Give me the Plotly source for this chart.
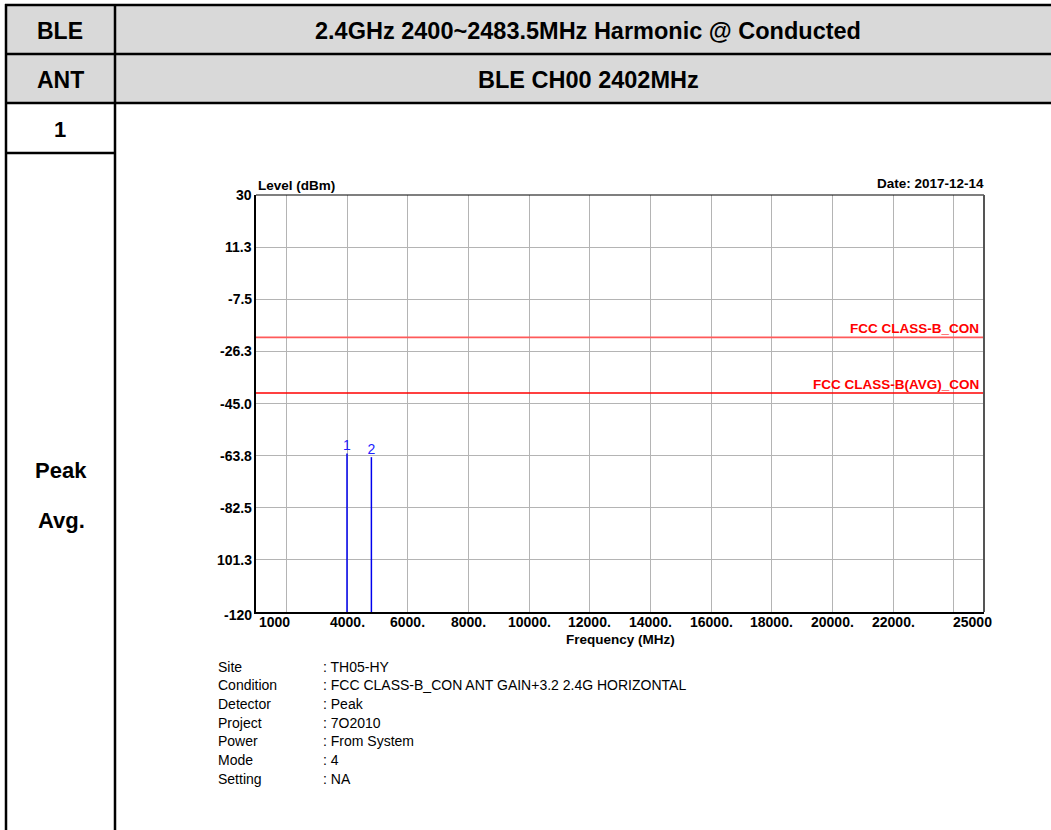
import plotly.graph_objects as go

W, H = 1051, 830
FONT = "Liberation Sans, Arial, sans-serif"

# ---- data ----
x_range = [1000, 25000]
y_range = [-120, 30]
x_grid = [2000, 4000, 6000, 8000, 10000, 12000, 14000, 16000, 18000, 20000, 22000, 24000]
x_tick_vals = [1000, 4000, 6000, 8000, 10000, 12000, 14000, 16000, 18000, 20000, 22000, 25000]
x_tick_labels = ["1000", "4000.", "6000.", "8000.", "10000.", "12000.", "14000.", "16000.", "18000.",
                 "20000.", "22000.", "25000"]
y_ticks = [30, 11.25, -7.5, -26.25, -45, -63.75, -82.5, -101.25, -120]
y_tick_labels = ["30", "11.3", "-7.5", "-26.3", "-45.0", "-63.8", "-82.5", "101.3", "-120"]

limit_names = ["FCC CLASS-B_CON", "FCC CLASS-B(AVG)_CON"]
limit_levels = [-21.23, -41.23]
limit_colors = ["#ff5a5a", "#ff0000"]

marker_ids = ["1", "2"]
marker_freqs = [4000, 4804]
marker_levels = [-63.0, -64.3]

info_keys = ["Site", "Condition", "Detector", "Project", "Power", "Mode", "Setting"]
info_vals = [": TH05-HY", ": FCC CLASS-B_CON ANT GAIN+3.2 2.4G HORIZONTAL", ": Peak",
             ": 7O2010", ": From System", ": 4", ": NA"]

header_left = ["BLE", "ANT", "1"]
header_right = ["2.4GHz 2400~2483.5MHz Harmonic @ Conducted", "BLE CH00 2402MHz"]


def X(p):
    return p / W


def Y(p):
    return 1 - p / H


# plot area in pixels
PL, PR, PT, PB = 256, 984, 195, 612

fig = go.Figure()

# limit lines
for name, lvl, col in zip(limit_names, limit_levels, limit_colors):
    fig.add_trace(go.Scatter(x=x_range, y=[lvl, lvl], mode="lines",
                             line=dict(color=col, width=1.6), hoverinfo="skip", showlegend=False))

# marker lines
for mid, f, lvl in zip(marker_ids, marker_freqs, marker_levels):
    fig.add_trace(go.Scatter(x=[f, f], y=[y_range[0], lvl], mode="lines",
                             line=dict(color="#0000ee", width=1.5), hoverinfo="skip", showlegend=False))
fig.add_trace(go.Scatter(x=marker_freqs, y=marker_levels, mode="text", text=marker_ids,
                         textposition="top center", textfont=dict(family=FONT, size=14, color="#2020ff"),
                         hoverinfo="skip", showlegend=False))

shapes = []
annotations = []

# table background & borders
shapes.append(dict(type="rect", xref="paper", yref="paper", x0=X(6), x1=X(W), y0=Y(103), y1=Y(5),
                   fillcolor="#d9d9d9", line=dict(width=0), layer="below"))
for yy in [5, 54, 103]:
    shapes.append(dict(type="line", xref="paper", yref="paper", x0=X(5), x1=X(W), y0=Y(yy), y1=Y(yy),
                       line=dict(color="black", width=2.5)))
shapes.append(dict(type="line", xref="paper", yref="paper", x0=X(5), x1=X(115), y0=Y(153), y1=Y(153),
                   line=dict(color="black", width=2.5)))
for xx in [6, 115]:
    shapes.append(dict(type="line", xref="paper", yref="paper", x0=X(xx), x1=X(xx), y0=Y(4), y1=Y(H + 2),
                       line=dict(color="black", width=2.5)))

# plot frame: top and right
shapes.append(dict(type="line", xref="x domain", yref="y domain", x0=0, x1=1, y0=1, y1=1,
                   line=dict(color="black", width=1.2)))
shapes.append(dict(type="line", xref="x domain", yref="y domain", x0=1, x1=1, y0=0, y1=1,
                   line=dict(color="#555555", width=2)))

# table texts
for txt, yc, fs in zip(header_left, [31, 80, 129], [23, 23, 22]):
    annotations.append(dict(text="<b>%s</b>" % txt, xref="paper", yref="paper", x=X(60), y=Y(yc),
                            showarrow=False, xanchor="center", yanchor="middle",
                            font=dict(family=FONT, size=fs, color="black")))
for txt, yc in zip(header_right, [31, 80]):
    annotations.append(dict(text="<b>%s</b>" % txt, xref="paper", yref="paper", x=X(588), y=Y(yc),
                            showarrow=False, xanchor="center", yanchor="middle",
                            font=dict(family=FONT, size=23.5, color="black")))
for txt, yc in zip(["Peak", "Avg."], [470, 520]):
    annotations.append(dict(text="<b>%s</b>" % txt, xref="paper", yref="paper", x=X(61), y=Y(yc),
                            showarrow=False, xanchor="center", yanchor="middle",
                            font=dict(family=FONT, size=22, color="black")))

# chart titles
annotations.append(dict(text="<b>Level (dBm)</b>", xref="paper", yref="paper", x=X(256), y=Y(185),
                        showarrow=False, xanchor="left", yanchor="middle",
                        font=dict(family=FONT, size=13.5, color="black")))
annotations.append(dict(text="<b>Date: 2017-12-14</b>", xref="paper", yref="paper", x=X(986), y=Y(184),
                        showarrow=False, xanchor="right", yanchor="middle",
                        font=dict(family=FONT, size=13.5, color="black")))
annotations.append(dict(text="<b>Frequency (MHz)</b>", xref="paper", yref="paper", x=X(620), y=Y(639),
                        showarrow=False, xanchor="center", yanchor="middle",
                        font=dict(family=FONT, size=13.5, color="black")))

# x tick labels
for i, (v, t) in enumerate(zip(x_tick_vals, x_tick_labels)):
    if i == 0:
        anc, sh = "left", 1
    elif i == len(x_tick_vals) - 1:
        anc, sh = "right", 10
    else:
        anc, sh = "center", 0
    annotations.append(dict(text="<b>%s</b>" % t, xref="x", yref="paper", x=v, y=Y(622), xshift=sh,
                            showarrow=False, xanchor=anc, yanchor="middle",
                            font=dict(family=FONT, size=14, color="black")))

# y tick labels
for v, t in zip(y_ticks, y_tick_labels):
    annotations.append(dict(text="<b>%s</b>" % t, xref="paper", yref="y", x=X(254), y=v,
                            yshift=(-3 if v == y_range[0] else 0),
                            showarrow=False, xanchor="right", yanchor="middle",
                            font=dict(family=FONT, size=14, color="black")))

# limit labels
for name, lvl in zip(limit_names, limit_levels):
    annotations.append(dict(text="<b>%s</b>" % name, xref="x", yref="y", x=x_range[1], y=lvl,
                            xshift=-3, yshift=-1, showarrow=False, xanchor="right", yanchor="bottom",
                            font=dict(family=FONT, size=13.5, color="#ff0000")))

# info block
for i, (k, v) in enumerate(zip(info_keys, info_vals)):
    yc = 666.7 + i * 18.67
    annotations.append(dict(text=k, xref="paper", yref="paper", x=X(216), y=Y(yc), showarrow=False,
                            xanchor="left", yanchor="middle", font=dict(family=FONT, size=14, color="black")))
    annotations.append(dict(text=v, xref="paper", yref="paper", x=X(321), y=Y(yc), showarrow=False,
                            xanchor="left", yanchor="middle", font=dict(family=FONT, size=14, color="black")))

fig.update_layout(
    width=W, height=H, margin=dict(l=0, r=0, t=0, b=0),
    paper_bgcolor="white", plot_bgcolor="white",
    showlegend=False,
    shapes=shapes, annotations=annotations,
    xaxis=dict(domain=[X(PL), X(PR)], range=x_range, tickmode="array", tickvals=x_grid,
               showticklabels=False,
               showgrid=True, gridcolor="#b4b4b4", gridwidth=1.2, zeroline=False,
               showline=True, linecolor="black", linewidth=2, ticks=""),
    yaxis=dict(domain=[Y(PB), Y(PT)], range=y_range, tickmode="array", tickvals=y_ticks,
               showticklabels=False,
               showgrid=True, gridcolor="#b4b4b4", gridwidth=1.2, zeroline=False,
               showline=True, linecolor="black", linewidth=2, ticks=""),
)

fig.write_html("out.html", post_script="document.body.style.margin='0';")
